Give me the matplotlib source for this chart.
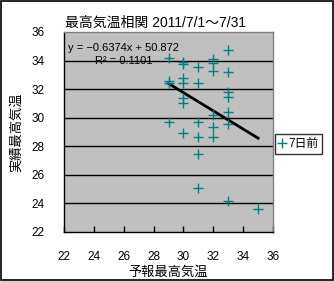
import matplotlib
matplotlib.use("Agg")
import matplotlib.pyplot as plt
from matplotlib.patches import Rectangle

plt.rcParams['font.family'] = ['Liberation Sans', 'Noto Sans CJK JP', 'DejaVu Sans']

forecast = [29, 29, 29, 29,
            30, 30, 30, 30, 30, 30, 30,
            31, 31, 31, 31, 31, 31,
            32, 32, 32, 32, 32, 32,
            33, 33, 33, 33, 33, 33, 33,
            35]
actual = [34.2, 32.55, 32.4, 29.7,
          33.9, 33.75, 32.75, 32.4, 31.4, 31.05, 28.9,
          33.55, 32.45, 29.7, 28.65, 27.45, 25.05,
          34.1, 33.85, 33.25, 30.2, 29.35, 28.65,
          34.75, 33.2, 31.8, 31.45, 30.4, 29.55, 24.15,
          23.6]
slope = -0.6374
intercept = 50.872
r2 = 0.1101
ticks = [22, 24, 26, 28, 30, 32, 34, 36]
title = "最高気温相関 2011/7/1～7/31"
xlabel = "予報最高気温"
ylabel = "実績最高気温"
series_name = "7日前"

fig = plt.figure(figsize=(3.34, 2.81), dpi=100)
fig.patches.append(Rectangle((0.002, 0.002), 0.995, 0.994, transform=fig.transFigure,
                             fill=False, edgecolor='black', linewidth=1.2))
ax = fig.add_axes([0.1916, 0.1744, 0.626, 0.712])
ax.set_facecolor('#C0C0C0')
ax.set_xlim(22, 36)
ax.set_ylim(22, 36)
ax.set_xticks(ticks)
ax.set_yticks(ticks)
for t in ticks[1:-1]:
    ax.axhline(t, color='black', linewidth=1, zorder=1)

pts, = ax.plot(forecast, actual, linestyle='none', marker='+', color='#008080',
               markersize=6.5, markeredgewidth=1, zorder=3, label=series_name)
xs = [min(forecast), max(forecast)]
ax.plot(xs, [slope * x + intercept for x in xs], color='black', linewidth=2, zorder=2)

for s in ['left', 'bottom']:
    ax.spines[s].set_color('black')
    ax.spines[s].set_linewidth(1)
for s in ['top', 'right']:
    ax.spines[s].set_color('#808080')
    ax.spines[s].set_linewidth(1)

ax.tick_params(axis='x', direction='in', length=4, width=1, pad=14, labelsize=8.5)
ax.tick_params(axis='y', length=0, pad=14, labelsize=8.5)

ax.text(22.25, 34.85, "y = \u22120.6374x + 50.872", fontsize=8, va='center', ha='left', zorder=4)
ax.text(24.1, 34.0, "R² = %.4f" % r2, fontsize=8, va='center', ha='left', zorder=4)

fig.text(0.465, 0.92, title, fontsize=10, ha='center', va='center')
ax.set_xlabel(xlabel, fontsize=9.5, labelpad=2)
ax.set_ylabel(ylabel, fontsize=9.5, labelpad=6)

leg = ax.legend(handles=[pts], loc='center left', bbox_to_anchor=(1.01, 0.44),
                frameon=True, fancybox=False, edgecolor='black', fontsize=8.5,
                handlelength=0.6, handletextpad=0.2, borderpad=0.3, borderaxespad=0.0,
                numpoints=1)
leg.get_frame().set_linewidth(1)

fig.savefig("out.png", dpi=100)
